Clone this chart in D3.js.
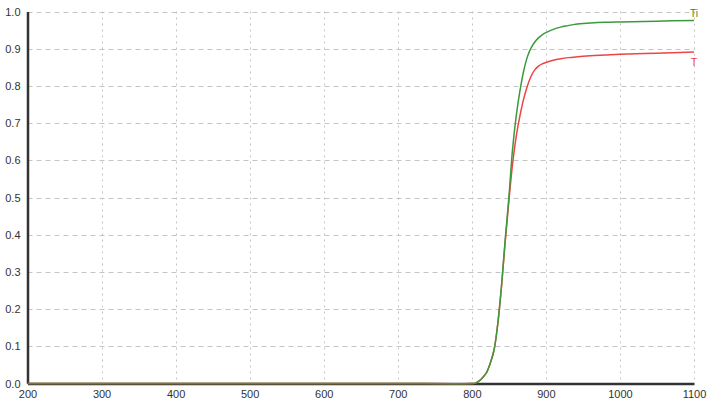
<!DOCTYPE html>
<html><head><meta charset="utf-8">
<script src="https://cdn.jsdelivr.net/npm/d3@7"></script>
<style>
html,body{margin:0;padding:0;background:#fff;}
svg{display:block;font-family:"Liberation Sans",Arial,sans-serif;}
</style></head>
<body><svg id="c" width="722" height="406"></svg>
<script>
const wavelengths = [200,300,400,500,600,700,800,805,810,815,820,825,830,835,840,845,850,855,860,865,870,875,880,885,890,895,900,910,920,930,940,960,980,1000,1050,1100];
const seriesTi = [0,0,0,0,0,0,0,0.001,0.007,0.017,0.03,0.055,0.09,0.16,0.26,0.385,0.5,0.63,0.72,0.787,0.84,0.878,0.902,0.918,0.929,0.937,0.943,0.952,0.958,0.962,0.966,0.969,0.971,0.972,0.974,0.976];
const seriesT  = [0,0,0,0,0,0,0,0.001,0.007,0.017,0.03,0.055,0.09,0.16,0.26,0.38,0.49,0.59,0.665,0.72,0.765,0.8,0.826,0.843,0.853,0.859,0.863,0.869,0.873,0.876,0.878,0.881,0.883,0.885,0.888,0.891];
const xTicks = [200,300,400,500,600,700,800,900,1000,1100];
const yTicks = [0,0.1,0.2,0.3,0.4,0.5,0.6,0.7,0.8,0.9,1.0];
const seriesNames = ["Ti","T"];

const svg = d3.select("#c");
const x = d3.scaleLinear().domain([200,1100]).range([27.5,694]);
const y = d3.scaleLinear().domain([0,1]).range([383.5,11.5]);

// grid
svg.append("g").selectAll("line").data(yTicks.filter(d=>d>0)).join("line")
  .attr("x1",x(200)).attr("x2",x(1100))
  .attr("y1",d=>Math.round(y(d))+0.5).attr("y2",d=>Math.round(y(d))+0.5)
  .attr("stroke","#c4c4c4").attr("stroke-width",1).attr("stroke-dasharray","5,4");
svg.append("g").selectAll("line").data(xTicks.filter(d=>d>200)).join("line")
  .attr("x1",d=>Math.round(x(d))+0.5).attr("x2",d=>Math.round(x(d))+0.5)
  .attr("y1",y(1)).attr("y2",y(0))
  .attr("stroke","#c4c4c4").attr("stroke-width",1).attr("stroke-dasharray","2,4");

// axes
const xAxis = svg.append("g").attr("transform",`translate(0,${y(0)})`)
  .call(d3.axisBottom(x).tickValues(xTicks).tickSize(0).tickPadding(7).tickFormat(d3.format("d")));
const yAxis = svg.append("g").attr("transform",`translate(${x(200)},0)`)
  .call(d3.axisLeft(y).tickValues(yTicks).tickSize(0).tickPadding(7).tickFormat(d3.format(".1f")));
[xAxis,yAxis].forEach(a=>{
  a.select(".domain").attr("stroke","#333").attr("stroke-width",2.5);
  a.selectAll("text").attr("fill","#333").style("font-size","11px").style("font-family","'Liberation Sans',Arial,sans-serif");
});

// lines
const data = [
  {name:seriesNames[0], vals:seriesTi, color:"#3c9a3c"},
  {name:seriesNames[1], vals:seriesT, color:"#ee4444"}
];
const line = d3.line().x((d,i)=>x(wavelengths[i])).y(d=>y(d)).curve(d3.curveCatmullRom.alpha(0.5));
data.slice().reverse().forEach(s=>{
  svg.append("path").attr("d",line(s.vals)).attr("fill","none")
    .attr("stroke",s.color).attr("stroke-width",1.5);
});

// labels
svg.append("text").attr("x",x(1100)-4).attr("y",y(seriesTi[seriesTi.length-1])-3)
  .text(seriesNames[0]).attr("fill","#2e8b2e").style("font-size","10px");
svg.append("text").attr("x",x(1100)-3).attr("y",y(seriesT[seriesT.length-1])+14)
  .text(seriesNames[1]).attr("fill","#ee3333").style("font-size","10px");
</script></body></html>
